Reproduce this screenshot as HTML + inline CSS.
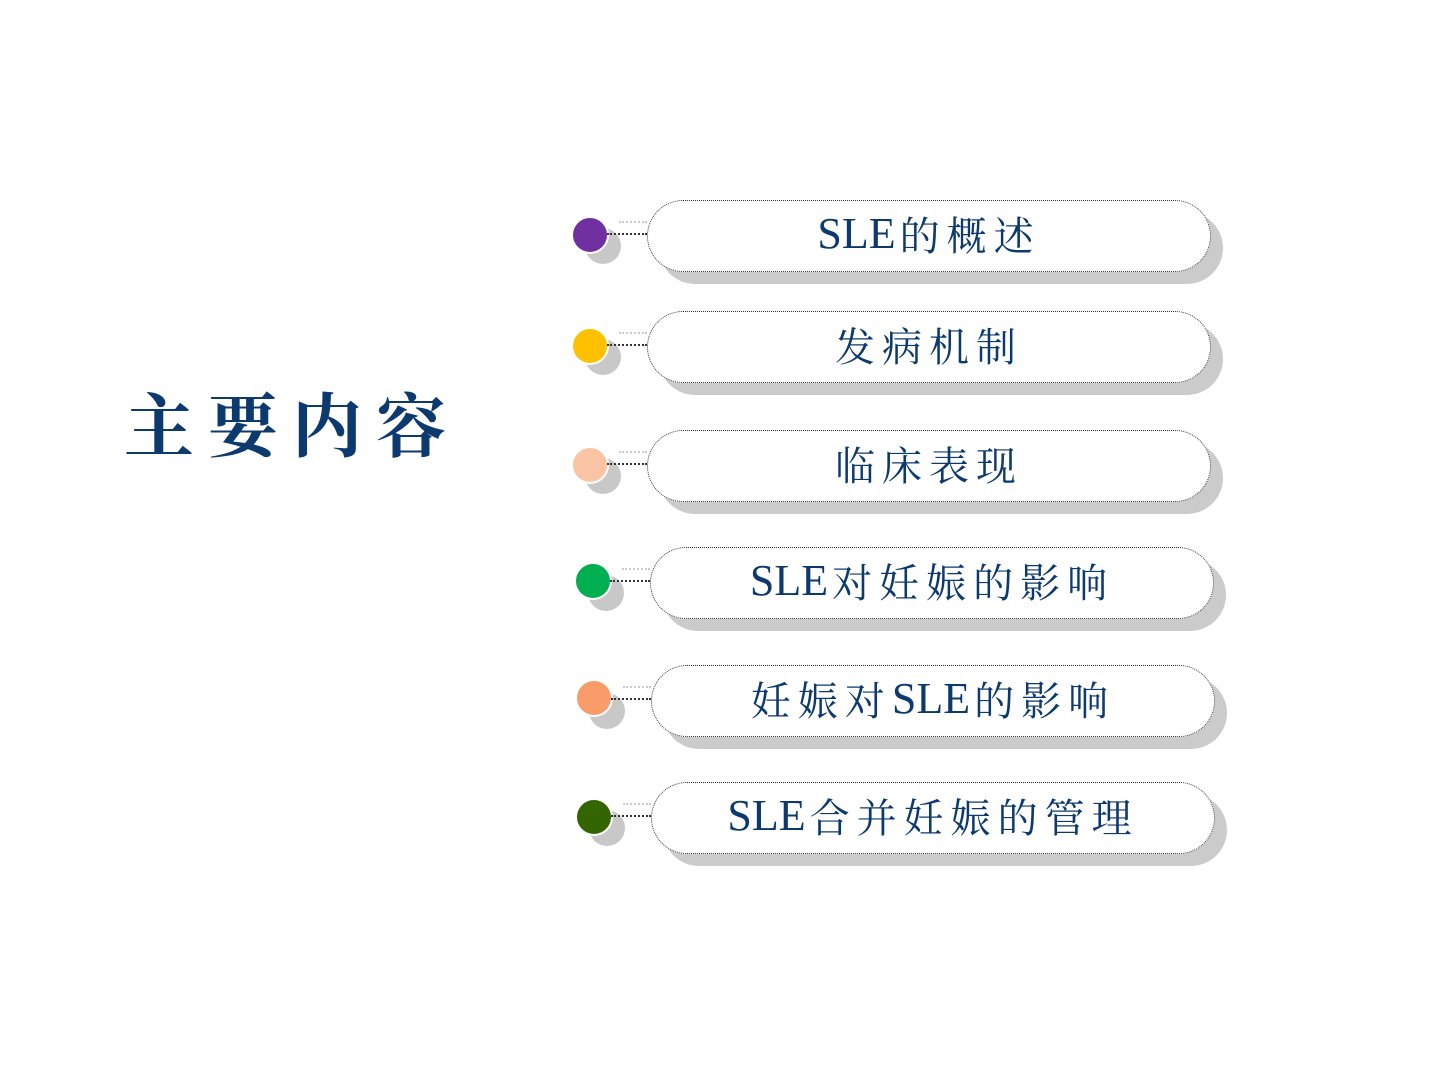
<!DOCTYPE html>
<html><head><meta charset="utf-8"><style>
body{margin:0;width:1440px;height:1080px;background:#fff;position:relative;overflow:hidden;font-family:"Liberation Serif","Noto Serif CJK SC",serif;}
.t{position:absolute;left:124px;top:371px;font-size:70px;font-weight:bold;color:#0d3a6e;letter-spacing:14px;white-space:nowrap;font-family:"Noto Serif CJK SC",serif;}
.r{position:absolute;width:660px;height:90px;}
.sh{position:absolute;left:74px;top:12px;width:564px;height:72px;border-radius:36px;background:#cbcbcb;}
.p{position:absolute;left:62px;top:0;width:562px;height:70px;border-radius:36px;background:#fff;border:1.5px dotted #333;display:flex;align-items:center;justify-content:center;font-size:40px;color:#0d3a6e;white-space:nowrap;letter-spacing:7px;padding-bottom:6px;box-sizing:content-box;height:64px;}
.p b{font-weight:normal;letter-spacing:0;font-size:44px;margin-right:4px}
.cs{position:absolute;left:0px;top:28px;width:36px;height:36px;border-radius:50%;background:#c8c8c8;}
.c{position:absolute;left:-14px;top:0px;width:34px;height:34px;border-radius:50%;border:2px solid #fff;}
.l1{position:absolute;left:22px;top:33px;width:40px;border-top:2px dotted #333;}
.l2{position:absolute;left:34px;top:21px;width:28px;border-top:2px dotted #ccc;}
</style></head><body>
<div class="t">主要内容</div>

<div class="r" style="left:585px;top:200px"><div class="cs"></div><div class="c" style="top:16px;background:#7030a0"></div><div class="l2"></div><div class="l1"></div><div class="sh"></div><div class="p"><b>SLE</b>的概述</div></div>
<div class="r" style="left:585px;top:311px"><div class="cs"></div><div class="c" style="top:16px;background:#ffc000"></div><div class="l2"></div><div class="l1"></div><div class="sh"></div><div class="p">发病机制</div></div>
<div class="r" style="left:585px;top:430px"><div class="cs"></div><div class="c" style="top:16px;background:#fbc4a4"></div><div class="l2"></div><div class="l1"></div><div class="sh"></div><div class="p">临床表现</div></div>
<div class="r" style="left:588px;top:547px"><div class="cs"></div><div class="c" style="top:15px;background:#00b050"></div><div class="l2"></div><div class="l1"></div><div class="sh"></div><div class="p"><b>SLE</b>对妊娠的影响</div></div>
<div class="r" style="left:589px;top:665px"><div class="cs"></div><div class="c" style="top:14px;background:#fa9b6a"></div><div class="l2"></div><div class="l1"></div><div class="sh"></div><div class="p">妊娠对<b>SLE</b>的影响</div></div>
<div class="r" style="left:589px;top:782px"><div class="cs"></div><div class="c" style="top:16px;background:#336600"></div><div class="l2"></div><div class="l1"></div><div class="sh"></div><div class="p"><b>SLE</b>合并妊娠的管理</div></div>
</body></html>
